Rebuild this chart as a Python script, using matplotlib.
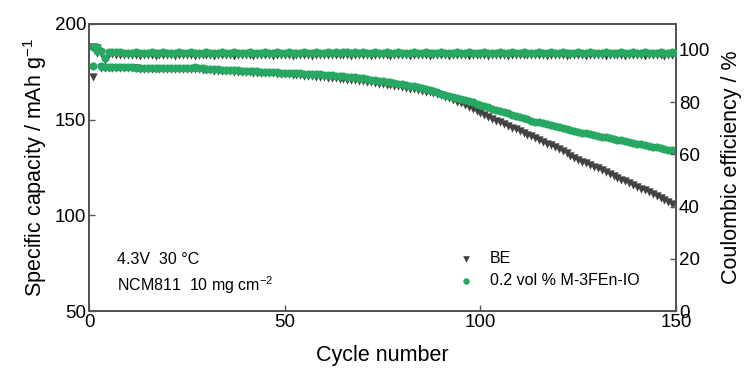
import numpy as np
import matplotlib
matplotlib.use("Agg")
import matplotlib.pyplot as plt

plt.rcParams['font.family'] = ['Liberation Sans', 'DejaVu Sans']
plt.rcParams['mathtext.fontset'] = 'custom'
plt.rcParams['mathtext.rm'] = 'Liberation Sans'
plt.rcParams['mathtext.it'] = 'Liberation Sans:italic'

cycles = np.arange(1, 151)

# specific capacity (mAh/g)
cap_be = [
  188.0, 187.5, 177.0, 177.0, 176.9, 176.9, 176.8, 176.8, 176.8, 176.7,
  176.7, 176.7, 176.6, 176.6, 176.5, 176.5, 176.5, 176.4, 176.4, 176.3,
  176.3, 176.2, 176.2, 176.2, 176.3, 176.5, 176.6, 176.3, 176.0, 175.8,
  175.7, 175.6, 175.5, 175.4, 175.3, 175.2, 175.1, 175.0, 174.9, 174.8,
  174.7, 174.6, 174.5, 174.4, 174.3, 174.2, 174.1, 174.0, 173.9, 173.8,
  173.6, 173.5, 173.3, 173.2, 173.0, 172.9, 172.7, 172.5, 172.3, 172.1,
  171.9, 171.7, 171.5, 171.3, 171.1, 170.9, 170.7, 170.5, 170.3, 170.0,
  169.7, 169.4, 169.1, 168.8, 168.5, 168.2, 167.9, 167.6, 167.3, 167.0,
  166.6, 166.2, 165.8, 165.4, 165.0, 164.6, 164.2, 163.8, 163.3, 162.8,
  162.0, 161.2, 160.3, 159.4, 158.5, 157.5, 156.5, 155.5, 154.5, 153.5,
  152.5, 151.5, 150.5, 149.5, 148.5, 147.6, 146.7, 145.8, 144.9, 144.0,
  143.1, 142.2, 141.3, 140.4, 139.5, 138.5, 137.5, 136.5, 135.5, 134.5,
  133.4, 132.3, 131.2, 130.1, 129.0, 128.1, 127.2, 126.3, 125.4, 124.5,
  123.5, 122.5, 121.5, 120.5, 119.5, 118.6, 117.7, 116.8, 115.9, 115.0,
  114.0, 113.0, 112.0, 111.0, 110.0, 109.0, 108.0, 107.0, 106.0, 105.0,
]
cap_io = [
  188.0, 187.8, 177.8, 177.6, 177.5, 177.5, 177.4, 177.4, 177.3, 177.3,
  177.3, 177.2, 177.2, 177.2, 177.1, 177.1, 177.1, 177.0, 177.0, 177.0,
  177.0, 176.9, 176.9, 176.9, 177.0, 177.2, 177.3, 177.0, 176.7, 176.5,
  176.4, 176.3, 176.2, 176.1, 176.0, 175.9, 175.8, 175.7, 175.6, 175.5,
  175.4, 175.3, 175.2, 175.1, 175.0, 174.9, 174.8, 174.7, 174.6, 174.5,
  174.4, 174.3, 174.2, 174.1, 174.0, 173.9, 173.8, 173.7, 173.6, 173.4,
  173.3, 173.1, 172.9, 172.8, 172.6, 172.4, 172.2, 172.0, 171.8, 171.5,
  171.2, 170.9, 170.6, 170.3, 170.0, 169.7, 169.4, 169.1, 168.8, 168.5,
  168.1, 167.7, 167.3, 166.9, 166.5, 166.0, 165.5, 165.0, 164.3, 163.6,
  163.0, 162.4, 161.9, 161.3, 160.8, 160.2, 159.6, 159.0, 158.4, 157.8,
  157.2, 156.5, 155.8, 155.2, 154.5, 153.9, 153.2, 152.6, 152.0, 151.3,
  150.7, 150.1, 149.5, 149.0, 148.5, 148.0, 147.5, 147.0, 146.5, 146.0,
  145.5, 145.0, 144.6, 144.1, 143.6, 143.2, 142.8, 142.4, 141.9, 141.5,
  141.1, 140.7, 140.3, 139.9, 139.5, 139.1, 138.7, 138.3, 137.9, 137.5,
  137.1, 136.7, 136.3, 135.9, 135.5, 135.1, 134.7, 134.3, 133.9, 133.5,
]

# coulombic efficiency (%)
ce_be = [
  89.5, 99.0, 98.7, 96.2, 98.4, 98.3, 98.2, 98.2, 98.1, 98.1,
  97.9, 98.2, 97.8, 98.1, 97.9, 98.2, 97.8, 98.0, 98.1, 97.9,
  98.2, 97.8, 98.0, 98.1, 97.9, 98.2, 97.8, 98.1, 98.0, 97.9,
  98.2, 97.8, 98.1, 97.9, 98.0, 98.2, 97.8, 98.1, 97.9, 98.0,
  98.2, 97.8, 98.0, 98.1, 97.9, 98.2, 97.8, 98.1, 98.0, 97.9,
  98.2, 97.8, 98.1, 97.9, 98.0, 98.2, 97.8, 98.1, 97.9, 98.0,
  98.2, 97.9, 98.1, 98.0, 97.9, 98.2, 97.8, 98.1, 98.0, 97.9,
  98.2, 97.8, 98.0, 98.1, 97.9, 98.2, 97.8, 98.1, 98.0, 97.9,
  98.2, 97.8, 98.1, 97.9, 98.0, 98.2, 97.8, 98.1, 97.9, 98.0,
  98.2, 97.8, 98.0, 98.1, 97.9, 98.2, 97.8, 98.1, 98.0, 97.9,
  98.2, 97.8, 98.1, 97.9, 98.0, 98.2, 97.8, 98.1, 97.9, 98.0,
  98.2, 97.9, 98.1, 98.0, 97.9, 98.2, 97.8, 98.1, 98.0, 97.9,
  98.2, 97.8, 98.0, 98.1, 97.9, 98.2, 97.8, 98.1, 98.0, 97.9,
  98.2, 97.8, 98.1, 97.9, 98.0, 98.2, 97.8, 98.1, 97.9, 98.0,
  98.2, 97.8, 98.0, 98.1, 97.9, 98.2, 97.8, 98.1, 98.0, 97.9,
]
ce_io = [
  94.0, 99.6, 99.5, 96.8, 99.3, 99.2, 99.1, 99.1, 99.0, 99.0,
  98.9, 99.1, 98.8, 99.0, 98.9, 99.1, 98.8, 99.0, 99.1, 98.9,
  99.0, 98.8, 99.1, 98.9, 99.0, 99.2, 98.8, 99.0, 98.9, 99.1,
  98.9, 99.0, 98.8, 99.1, 98.9, 99.0, 99.1, 98.8, 99.0, 98.9,
  99.1, 98.8, 99.0, 98.9, 99.1, 99.0, 98.8, 99.1, 98.9, 99.0,
  99.1, 98.8, 99.0, 98.9, 99.1, 99.0, 98.8, 99.1, 98.9, 99.0,
  99.1, 98.9, 99.2, 99.0, 99.1, 99.2, 98.9, 99.1, 99.0, 99.2,
  99.0, 98.9, 99.1, 99.0, 98.8, 99.1, 98.9, 99.0, 99.1, 98.9,
  99.0, 98.8, 99.1, 98.9, 99.0, 99.1, 98.8, 99.0, 98.9, 99.1,
  98.9, 99.0, 98.8, 99.1, 98.9, 99.0, 99.1, 98.8, 99.0, 98.9,
  99.1, 98.8, 99.0, 98.9, 99.1, 99.0, 98.8, 99.1, 98.9, 99.0,
  99.1, 98.8, 99.0, 98.9, 99.1, 99.0, 98.8, 99.1, 98.9, 99.0,
  99.1, 98.9, 99.0, 98.8, 99.1, 98.9, 99.0, 99.1, 98.8, 99.0,
  98.9, 99.1, 98.8, 99.0, 98.9, 99.1, 99.0, 98.8, 99.1, 98.9,
  99.0, 99.1, 98.8, 99.0, 98.9, 99.1, 99.0, 98.8, 99.1, 99.0,
]

gray = '#424242'
green = '#27a862'
spine = '#555555'

fig = plt.figure(figsize=(7.48, 3.73), dpi=100)
ax = fig.add_axes([0.119, 0.166, 0.785, 0.770])
ax2 = ax.twinx()

ax.scatter(cycles, cap_be, marker='v', s=36, color=gray, lw=0, zorder=2, label='BE')
ax.scatter(cycles, cap_io, marker='o', s=34, color=green, lw=0, zorder=3, label='0.2 vol % M-3FEn-IO')
ax2.scatter(cycles, ce_be, marker='v', s=36, color=gray, lw=0, zorder=2)
ax2.scatter(cycles, ce_io, marker='o', s=34, color=green, lw=0, zorder=3)

ax.set_xlim(0, 150)
ax.set_ylim(50, 200)
ax2.set_ylim(0, 110)
ax.set_xticks([0, 50, 100, 150])
ax.set_yticks([50, 100, 150, 200])
ax2.set_yticks([0, 20, 40, 60, 80, 100])

for a in (ax, ax2):
  for s in a.spines.values():
    s.set_color(spine)
    s.set_linewidth(1.4)
  a.tick_params(direction='in', length=4, width=1, color=spine, labelsize=13.5, pad=2)

ax.set_xlabel("Cycle number", fontsize=15.5, labelpad=10)
ax.set_ylabel("Specific capacity / mAh g$^{-1}$", fontsize=15.5, labelpad=4)
ax2.set_ylabel("Coulombic efficiency / %", fontsize=15.5, rotation=90, labelpad=8)

ax.text(0.048, 0.18, "4.3V  30 \u00b0C", transform=ax.transAxes, fontsize=11.5, va='center')
ax.text(0.048, 0.09, "NCM811  10 mg cm$^{-2}$", transform=ax.transAxes, fontsize=11.5, va='center')

ax.legend(loc='lower left', bbox_to_anchor=(0.59, 0.03), frameon=False, fontsize=11.5,
          handletextpad=0.5, labelspacing=0.45, markerscale=0.8)

fig.savefig("out.png", dpi=100)
